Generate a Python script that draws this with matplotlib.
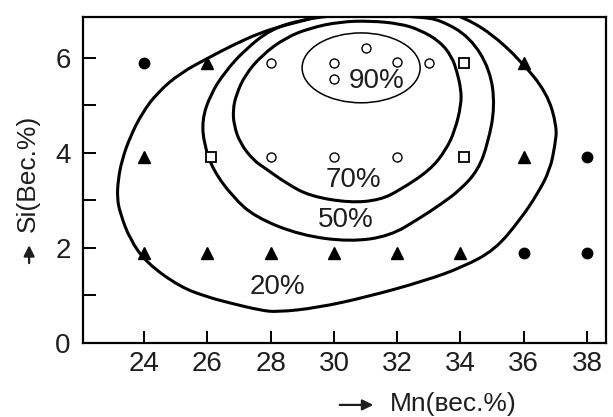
import matplotlib
matplotlib.use("Agg")
import matplotlib.pyplot as plt
import numpy as np
from matplotlib.patches import Ellipse, PathPatch
from matplotlib.path import Path

plt.rcParams["font.family"] = ["Liberation Sans", "DejaVu Sans"]

# markers on the composition grid (Mn, Si)
filled_circle_x = [24, 38, 36, 38]
filled_circle_y = [5.9, 3.92, 1.9, 1.9]
triangle_x = [26, 36, 24, 36, 24, 26, 28, 30, 32, 34]
triangle_y = [5.9, 5.9, 3.92, 3.92, 1.9, 1.9, 1.9, 1.9, 1.9, 1.9]
open_circle_x = [28, 30, 30, 31, 32, 33, 28, 30, 32]
open_circle_y = [5.9, 5.9, 5.55, 6.2, 5.92, 5.9, 3.92, 3.92, 3.92]
open_square_x = [34.1, 26.1, 34.1]
open_square_y = [5.9, 3.92, 3.92]

# contour lines
c20_x = [29.88, 29.25, 28.46, 27.67, 26.81, 26.09, 25.14, 24.41, 23.94, 23.56, 23.30, 23.18,
         23.15, 23.24, 23.56, 24.09, 25.14, 25.99, 26.72, 27.67, 28.20, 29.47, 31.05, 32.88,
         34.08, 35.09, 35.88, 36.42, 36.83, 36.99, 37.05, 36.74, 35.88, 34.94, 34.08, 33.36,
         32.09, 30.83]
c20_y = [6.95, 6.82, 6.69, 6.53, 6.27, 6.02, 5.68, 5.26, 4.84, 4.34, 3.85, 3.43,
         3.05, 2.74, 2.17, 1.68, 1.18, 0.97, 0.84, 0.69, 0.65, 0.74, 0.97, 1.31,
         1.60, 1.96, 2.59, 3.12, 3.64, 4.17, 4.55, 5.26, 5.96, 6.53, 6.86, 7.01,
         7.07, 7.05]

c50_x = [25.83, 25.90, 26.18, 26.81, 27.51, 28.93, 30.51, 31.77, 32.72, 33.36, 33.99, 34.56,
         34.87, 35.09, 34.94, 34.30, 33.36, 32.72, 31.46, 30.19, 28.93, 27.98, 27.19, 26.56,
         26.09]
c50_y = [4.69, 4.17, 3.64, 3.07, 2.65, 2.27, 2.13, 2.25, 2.63, 2.91, 3.22, 3.64,
         4.21, 4.97, 5.75, 6.44, 6.80, 6.86, 6.91, 6.91, 6.80, 6.59, 6.17, 5.71,
         5.22]

c70_x = [26.81, 26.84, 27.03, 27.45, 27.82, 28.52, 29.25, 30.51, 31.46, 32.09, 33.04, 33.54,
         33.83, 34.02, 34.02, 33.89, 33.73, 33.36, 32.72, 32.09, 31.14, 30.19, 29.25, 28.46,
         27.73, 27.19, 26.91]
c70_y = [4.91, 4.59, 4.21, 3.85, 3.68, 3.35, 3.09, 2.95, 3.01, 3.22, 3.64, 4.06,
         4.48, 5.01, 5.33, 5.71, 6.02, 6.34, 6.59, 6.72, 6.78, 6.76, 6.63, 6.42,
         6.06, 5.64, 5.22]

# 90% region is a small ellipse
c90_center = (30.86, 5.79)
c90_width = 3.73
c90_height = 1.47

level_text = ["90%", "70%", "50%", "20%"]
level_x = [31.35, 30.61, 30.38, 28.2]
level_y = [5.52, 3.43, 2.58, 1.18]

x_ticks = [24, 26, 28, 30, 32, 34, 36, 38]
y_ticks = [0, 1, 2, 3, 4, 5, 6]
y_tick_labels = ["0", "", "2", "", "4", "", "6"]

TXT = "#1e1e1e"


def closed_smooth_path(xs, ys):
    # quadratic b-spline through the traced points, drawn by matplotlib as curve3 segments
    p = np.column_stack([xs, ys])
    mids = (p + np.roll(p, -1, axis=0)) / 2
    verts = [mids[-1]]
    codes = [Path.MOVETO]
    for i in range(len(p)):
        verts += [p[i], mids[i]]
        codes += [Path.CURVE3, Path.CURVE3]
    return Path(verts, codes)


fig = plt.figure(figsize=(6.13, 4.17), dpi=100)
ax = fig.add_axes([0.1354, 0.1775, 0.8532, 0.7817])

for cx, cy in [(c20_x, c20_y), (c50_x, c50_y), (c70_x, c70_y)]:
    ax.add_patch(PathPatch(closed_smooth_path(cx, cy), fill=False, edgecolor="black",
                           lw=2.2, zorder=2))

ax.add_patch(Ellipse(c90_center, c90_width, c90_height, fill=False,
                     edgecolor="black", lw=1.1, zorder=2))

ax.plot(filled_circle_x, filled_circle_y, "o", color="black", ms=7.5, zorder=4)
ax.plot(triangle_x, triangle_y, "^", color="black", ms=9, zorder=4)
ax.plot(open_circle_x, open_circle_y, "o", mfc="white", mec="black", mew=1.0,
        ms=6.5, zorder=4)
ax.plot(open_square_x, open_square_y, "s", mfc="white", mec="black", mew=1.3,
        ms=6.5, zorder=4)

for t, x, y in zip(level_text, level_x, level_y):
    ax.text(x, y, t, fontsize=20, color=TXT, ha="center", va="center", zorder=3)

ax.set_xlim(22.07, 38.60)
ax.set_ylim(0, 6.86)
ax.set_xticks(x_ticks)
ax.set_xticklabels([str(v) for v in x_ticks])
ax.set_yticks(y_ticks)
ax.set_yticklabels(y_tick_labels)
ax.tick_params(direction="in", length=9, width=1.4, labelsize=20, labelcolor=TXT,
               top=False, right=False)
ax.tick_params(axis="x", pad=6)
ax.tick_params(axis="y", pad=9)
for s in ax.spines.values():
    s.set_linewidth(1.6)

ax.set_xlabel("Mn(вес.%)", fontsize=19, color=TXT)
ax.xaxis.set_label_coords(0.708, -0.15)
ax.set_ylabel("Si(Вес.%)", fontsize=19, color=TXT)
ax.yaxis.set_label_coords(-0.082, 0.52)

# direction arrows in front of the axis labels
arrow = dict(arrowstyle="-|>", color=TXT, lw=1.6, mutation_scale=16, shrinkA=0, shrinkB=0)
ax.annotate("", xy=(0.555, -0.19), xytext=(0.491, -0.19),
            xycoords="axes fraction", textcoords="axes fraction", arrowprops=arrow,
            annotation_clip=False)
ax.annotate("", xy=(-0.103, 0.30), xytext=(-0.103, 0.245),
            xycoords="axes fraction", textcoords="axes fraction", arrowprops=arrow,
            annotation_clip=False)

fig.savefig("out.png", dpi=100)
